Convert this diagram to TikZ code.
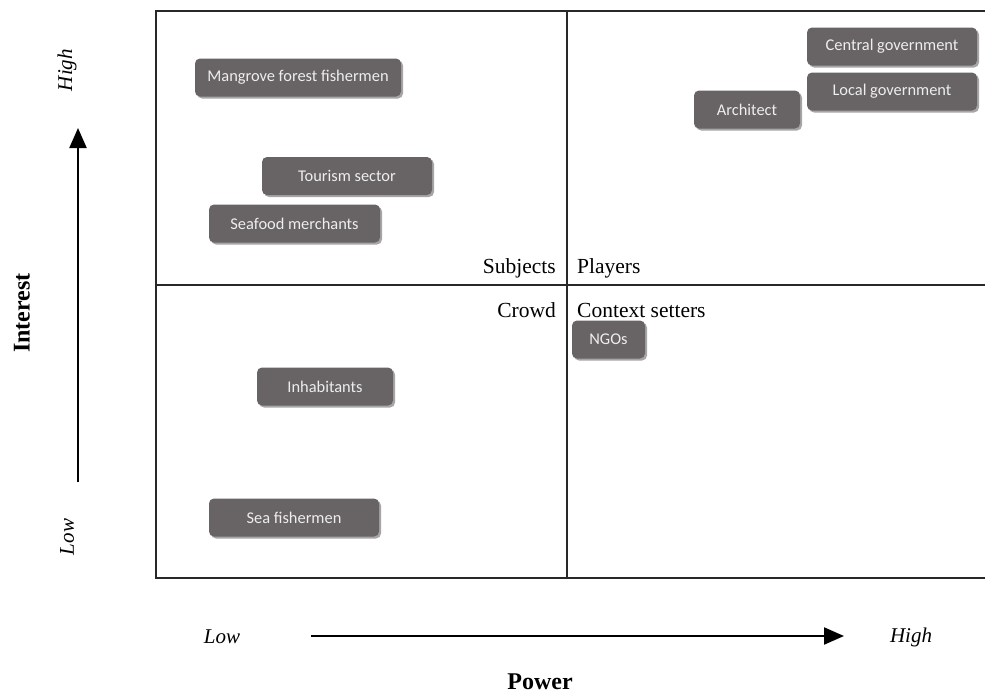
\documentclass[tikz,border=0pt]{standalone}
\usepackage{fontspec}
\setmainfont{Liberation Serif}
\newfontfamily\boxfont{Carlito}
\usepackage{xcolor}
\usetikzlibrary{arrows.meta, positioning, shadows}
\definecolor{boxgray}{RGB}{104, 99, 100}
\definecolor{boxtext}{RGB}{238, 238, 238}
\definecolor{framegray}{RGB}{40, 40, 40}

\begin{document}
\begin{tikzpicture}[
    x=1pt, y=-1pt,
    actor/.style={rectangle, rounded corners=5pt, fill=boxgray, text=boxtext, align=center,
        font=\boxfont\fontsize{16.4}{19}\selectfont, minimum height=38pt, inner sep=0pt,
        drop shadow={shadow xshift=2pt, shadow yshift=-2pt, opacity=0.35, fill=black}},
    quad/.style={font=\fontsize{21.5}{25}\selectfont, inner sep=0pt},
    axislabel/.style={font=\bfseries\fontsize{24}{28}\selectfont, inner sep=0pt},
    level/.style={font=\itshape\fontsize{21}{25}\selectfont, inner sep=0pt},
    axis/.style={line width=2.2pt, -{Triangle[length=20pt, width=17pt]}}
]
    \useasboundingbox (0,0) rectangle (985,696);

    % Grid
    \draw[framegray, line width=1.3pt] (986,11) -- (156,11) -- (156,578) -- (986,578);
    \draw[framegray, line width=1.3pt] (567,11) -- (567,578);
    \draw[framegray, line width=1.3pt] (156,285) -- (986,285);

    % Quadrant names
    \node[quad, anchor=base east] (subjects) at (556,273) {Subjects};
    \node[quad, anchor=base west] (players) at (577,273) {Players};
    \node[quad, anchor=base east] (crowd) at (556,317) {Crowd};
    \node[quad, anchor=base west] (context) at (577,317) {Context setters};

    % Stakeholders
    \node[actor, minimum width=206pt] (mangrove) at (298,77.5) {Mangrove forest fishermen};
    \node[actor, minimum width=170pt] (tourism) at (347,176) {Tourism sector};
    \node[actor, minimum width=171pt] (seafood) at (294.5,223.5) {Seafood merchants};
    \node[actor, minimum width=170pt] (central) at (892,46.5) {Central government};
    \node[actor, minimum width=170pt] (local) at (892,91.5) {Local government};
    \node[actor, minimum width=106pt] (architect) at (747,109.5) {Architect};
    \node[actor, minimum width=73pt] (ngos) at (608.5,339.5) {NGOs};
    \node[actor, minimum width=136pt] (inhabitants) at (325,386.5) {Inhabitants};
    \node[actor, minimum width=170pt] (seafish) at (294,517.5) {Sea fishermen};

    % Interest axis
    \coordinate (ilow) at (78,482);
    \coordinate (ihigh) at (78,128);
    \draw[axis] (ilow) -- (ihigh);
    \node[level, rotate=90] (ihightext) at (67,70) {High};
    \node[level, rotate=90] (ilowtext) at (67,537) {Low};
    \node[axislabel, rotate=90] (interest) at (22,313) {Interest};

    % Power axis
    \coordinate (plow) at (311,636);
    \coordinate (phigh) at (844,636);
    \draw[axis] (plow) -- (phigh);
    \node[level] (plowtext) at (222,637) {Low};
    \node[level] (phightext) at (911,637) {High};
    \node[axislabel] (power) at (540,682) {Power};
\end{tikzpicture}
\end{document}
